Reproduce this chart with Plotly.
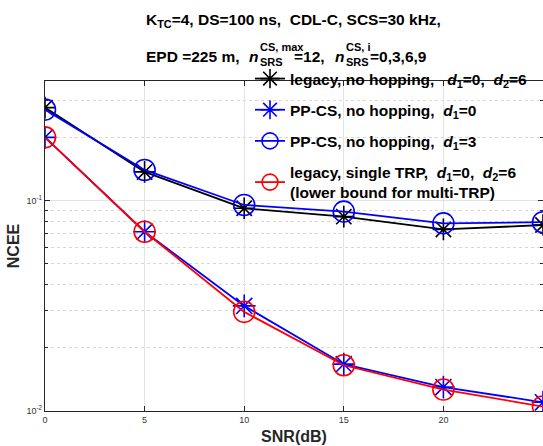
import plotly.graph_objects as go

# SNR sweep (dB)
snr_db = [0, 5, 10, 15, 20, 25]

# NCEE for each configuration
ncee_legacy_nohop = [0.277, 0.137, 0.092, 0.084, 0.073, 0.0766]
ncee_ppcs_d0 = [0.200, 0.0712, 0.0316, 0.0167, 0.0130, 0.0110]
ncee_ppcs_d3 = [0.271, 0.140, 0.0954, 0.0887, 0.078, 0.079]
ncee_legacy_single = [0.200, 0.0712, 0.0296, 0.0165, 0.01265, 0.0105]

names = [
    "legacy, no hopping,\u00a0\u00a0 <i>d</i><sub>1</sub>=0,\u00a0\u00a0<i>d</i><sub>2</sub>=6",
    "PP-CS, no hopping,\u00a0\u00a0<i>d</i><sub>1</sub>=0",
    "PP-CS, no hopping,\u00a0\u00a0<i>d</i><sub>1</sub>=3",
    "legacy, single TRP,\u00a0\u00a0<i>d</i><sub>1</sub>=0,\u00a0\u00a0<i>d</i><sub>2</sub>=6"
    "<br>(lower bound for multi-TRP)",
]

y_tick_vals = [0.01, 0.1]
y_tick_text = ["10<sup>-2</sup>", "10<sup>-1</sup>"]
y_minor_vals = [0.02, 0.03, 0.04, 0.05, 0.06, 0.07, 0.08, 0.09, 0.2, 0.3]

FONT = "Liberation Sans"
TITLE_FONT = "Liberation Sans Narrow, Liberation Sans"
W, H = 543, 446
ML, MR, MT, MB = 45, 0, 81, 35
PW, PH = W - ML - MR, H - MT - MB


def px_x(px):
    return (px - ML) / PW


def px_y(py):
    return (H - MB - py) / PH


series = [
    (ncee_legacy_nohop, "black", "asterisk-open", 18),
    (ncee_ppcs_d0, "#0000ff", "asterisk-open", 19),
    (ncee_ppcs_d3, "#0000ff", "circle-open", 21),
    (ncee_legacy_single, "#ff0000", "circle-open", 21),
]

fig = go.Figure()
for i, (vals, col, sym, size) in enumerate(series):
    fig.add_trace(go.Scatter(
        x=snr_db, y=vals, mode="lines+markers", name=names[i],
        legendgroup=f"g{i}",
        line=dict(color=col, width=1.8),
        marker=dict(symbol=sym, size=size, color=col,
                    line=dict(color=col, width=1.6)),
    ))

# white panel behind the legend (above gridlines, below traces)
fig.add_shape(type="rect", xref="paper", yref="paper",
              x0=px_x(246), x1=1.0, y0=px_y(197), y1=px_y(82.5),
              fillcolor="white", line=dict(width=0), layer="between")

title_font = dict(family=TITLE_FONT, size=15.5, color="black", weight="bold")
small_font = dict(family=TITLE_FONT, size=11, color="black", weight="bold")


def text_at(txt, px, py, font, anchor="left"):
    fig.add_annotation(text=txt, xref="paper", yref="paper",
                       x=px_x(px), y=px_y(py), xanchor=anchor, yanchor="middle",
                       showarrow=False, font=font)


# two-line heading; n with stacked super/subscripts is assembled piecewise
text_at("K<sub>TC</sub>=4, DS=100 ns,\u00a0\u00a0CDL-C, SCS=30 kHz,", 144, 21, title_font)
text_at("EPD =225 m,", 144, 56, title_font)
text_at("<i>n</i>", 247, 56, title_font)
text_at("CS, max", 258, 47, small_font)
text_at("SRS", 258, 62, small_font)
text_at("=12,", 292, 56, title_font)
text_at("<i>n</i>", 333, 56, title_font)
text_at("CS, i", 344, 47, small_font)
text_at("SRS", 344, 62, small_font)
text_at("=0,3,6,9", 368, 56, title_font)

fig.update_layout(
    width=W, height=H,
    margin=dict(l=ML, r=MR, t=MT, b=MB, pad=0),
    paper_bgcolor="white", plot_bgcolor="white",
    font=dict(family=FONT, color="#262626"),
    showlegend=True,
    legend=dict(x=px_x(250), y=px_y(62), xanchor="left", yanchor="top",
                bgcolor="rgba(0,0,0,0)", borderwidth=0,
                font=dict(family=FONT, size=15.5, color="black", weight="bold"),
                tracegroupgap=8, traceorder="grouped"),
    xaxis=dict(
        range=[0, 25], dtick=5, tick0=0,
        showline=True, linecolor="#262626", linewidth=1.3, mirror="ticks",
        ticks="inside", ticklen=5, tickcolor="#262626", tickwidth=1,
        showgrid=True, gridcolor="#e3e3e3", gridwidth=1, zeroline=False,
        tickfont=dict(family=FONT, size=9, color="#333333"),
        title=dict(text="SNR(dB)", standoff=6,
                   font=dict(family=FONT, size=16, color="#262626", weight="bold")),
    ),
    yaxis=dict(
        type="log", range=[-2, -0.431],
        tickvals=y_tick_vals, ticktext=y_tick_text,
        showline=True, linecolor="#262626", linewidth=1.3, mirror="ticks",
        ticks="inside", ticklen=5, tickcolor="#262626", tickwidth=1,
        showgrid=True, gridcolor="#e3e3e3", gridwidth=1, zeroline=False,
        tickfont=dict(family=FONT, size=9, color="#333333"),
        minor=dict(tickvals=y_minor_vals, ticks="inside", ticklen=3,
                   tickcolor="#262626", showgrid=True,
                   gridcolor="#d6d6d6", griddash="dot", gridwidth=1),
        title=dict(text="NCEE", standoff=2,
                   font=dict(family=FONT, size=16, color="#262626", weight="bold")),
    ),
)

fig.write_html("out.html")
